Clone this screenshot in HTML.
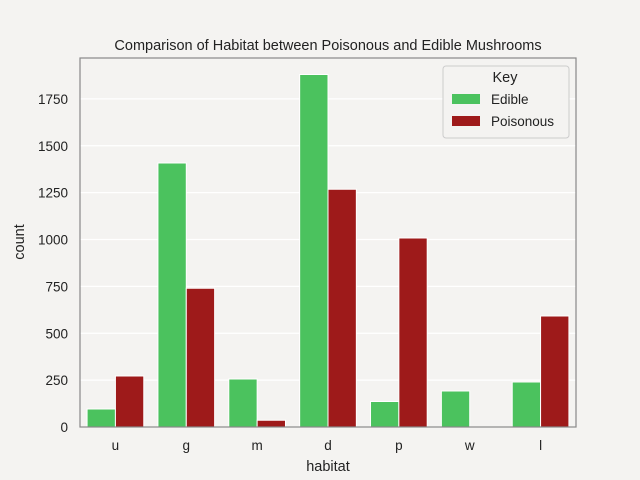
<!DOCTYPE html>
<html><head><meta charset="utf-8"><style>
body{margin:0;background:#f4f3f1;}
svg{display:block;font-family:"Liberation Sans","DejaVu Sans",sans-serif;}
</style></head><body>
<svg id="chart" width="640" height="480">
<rect width="640" height="480" fill="#f4f3f1"/>
<text x="328" y="50" text-anchor="middle" font-size="14.5" fill="#222">Comparison of Habitat between Poisonous and Edible Mushrooms</text>
<g id="grid"></g><g id="bars"></g><g id="ticks"></g>
<rect x="80" y="58" width="496" height="369" fill="none" stroke="#888" stroke-width="1.2"/>
<text x="328" y="471" text-anchor="middle" font-size="14.5" fill="#222">habitat</text>
<text x="24" y="242" text-anchor="middle" font-size="14.5" fill="#222" transform="rotate(-90 24 242)">count</text>
<g>
<rect x="443" y="66" width="126" height="72" rx="3" fill="#f4f3f1" stroke="#ccc"/>
<text x="505" y="82" text-anchor="middle" font-size="14.5" fill="#222">Key</text>
<rect x="452" y="94" width="28" height="10" fill="#4bc25e"/>
<text x="491" y="104" font-size="13.5" fill="#222">Edible</text>
<rect x="452" y="116" width="28" height="10" fill="#9e1a1a"/>
<text x="491" y="126" font-size="13.5" fill="#222">Poisonous</text>
</g>
</svg>
<script>
const categories=["u","g","m","d","p","w","l"];
const edible=[96,1408,256,1880,136,192,240];
const poisonous=[272,740,36,1268,1008,0,592];
const yTicks=[0,250,500,750,1000,1250,1500,1750];
const NS="http://www.w3.org/2000/svg";
const L=80,R=576,T=58,B=427,YMAX=1968;
const step=(R-L)/categories.length;
function x(i){return L+step*(i+0.5);}
function y(v){return B-v/YMAX*(B-T);}
function mk(t,a,p){const e=document.createElementNS(NS,t);for(const k in a)e.setAttribute(k,a[k]);p.appendChild(e);return e;}
const grid=document.getElementById('grid'),bars=document.getElementById('bars'),ticks=document.getElementById('ticks');
yTicks.forEach(v=>{
 const l=mk('line',{x1:L,x2:R,y1:y(v),y2:y(v),stroke:'#fff','stroke-width':1.2},grid);
 
 
 const t=mk('text',{x:L-12,y:y(v)+5,'text-anchor':'end','font-size':13.5,fill:'#222'},ticks);
 t.textContent=v;
 
 
});
const bw=step*0.4;
categories.forEach((c,i)=>{
 const e=mk('rect',{x:x(i)-bw,y:y(edible[i]),width:bw,height:B-y(edible[i]),fill:'#4bc25e',stroke:'#fff','stroke-width':1},bars);
 
 
 const p=mk('rect',{x:x(i),y:y(poisonous[i]),width:bw,height:B-y(poisonous[i]),fill:'#9e1a1a',stroke:'#fff','stroke-width':1},bars);
 
 
 const t=mk('text',{x:x(i),y:B+23,'text-anchor':'middle','font-size':13.5,fill:'#222'},ticks);
 t.textContent=c;
 
 
});
</script>
</body></html>
